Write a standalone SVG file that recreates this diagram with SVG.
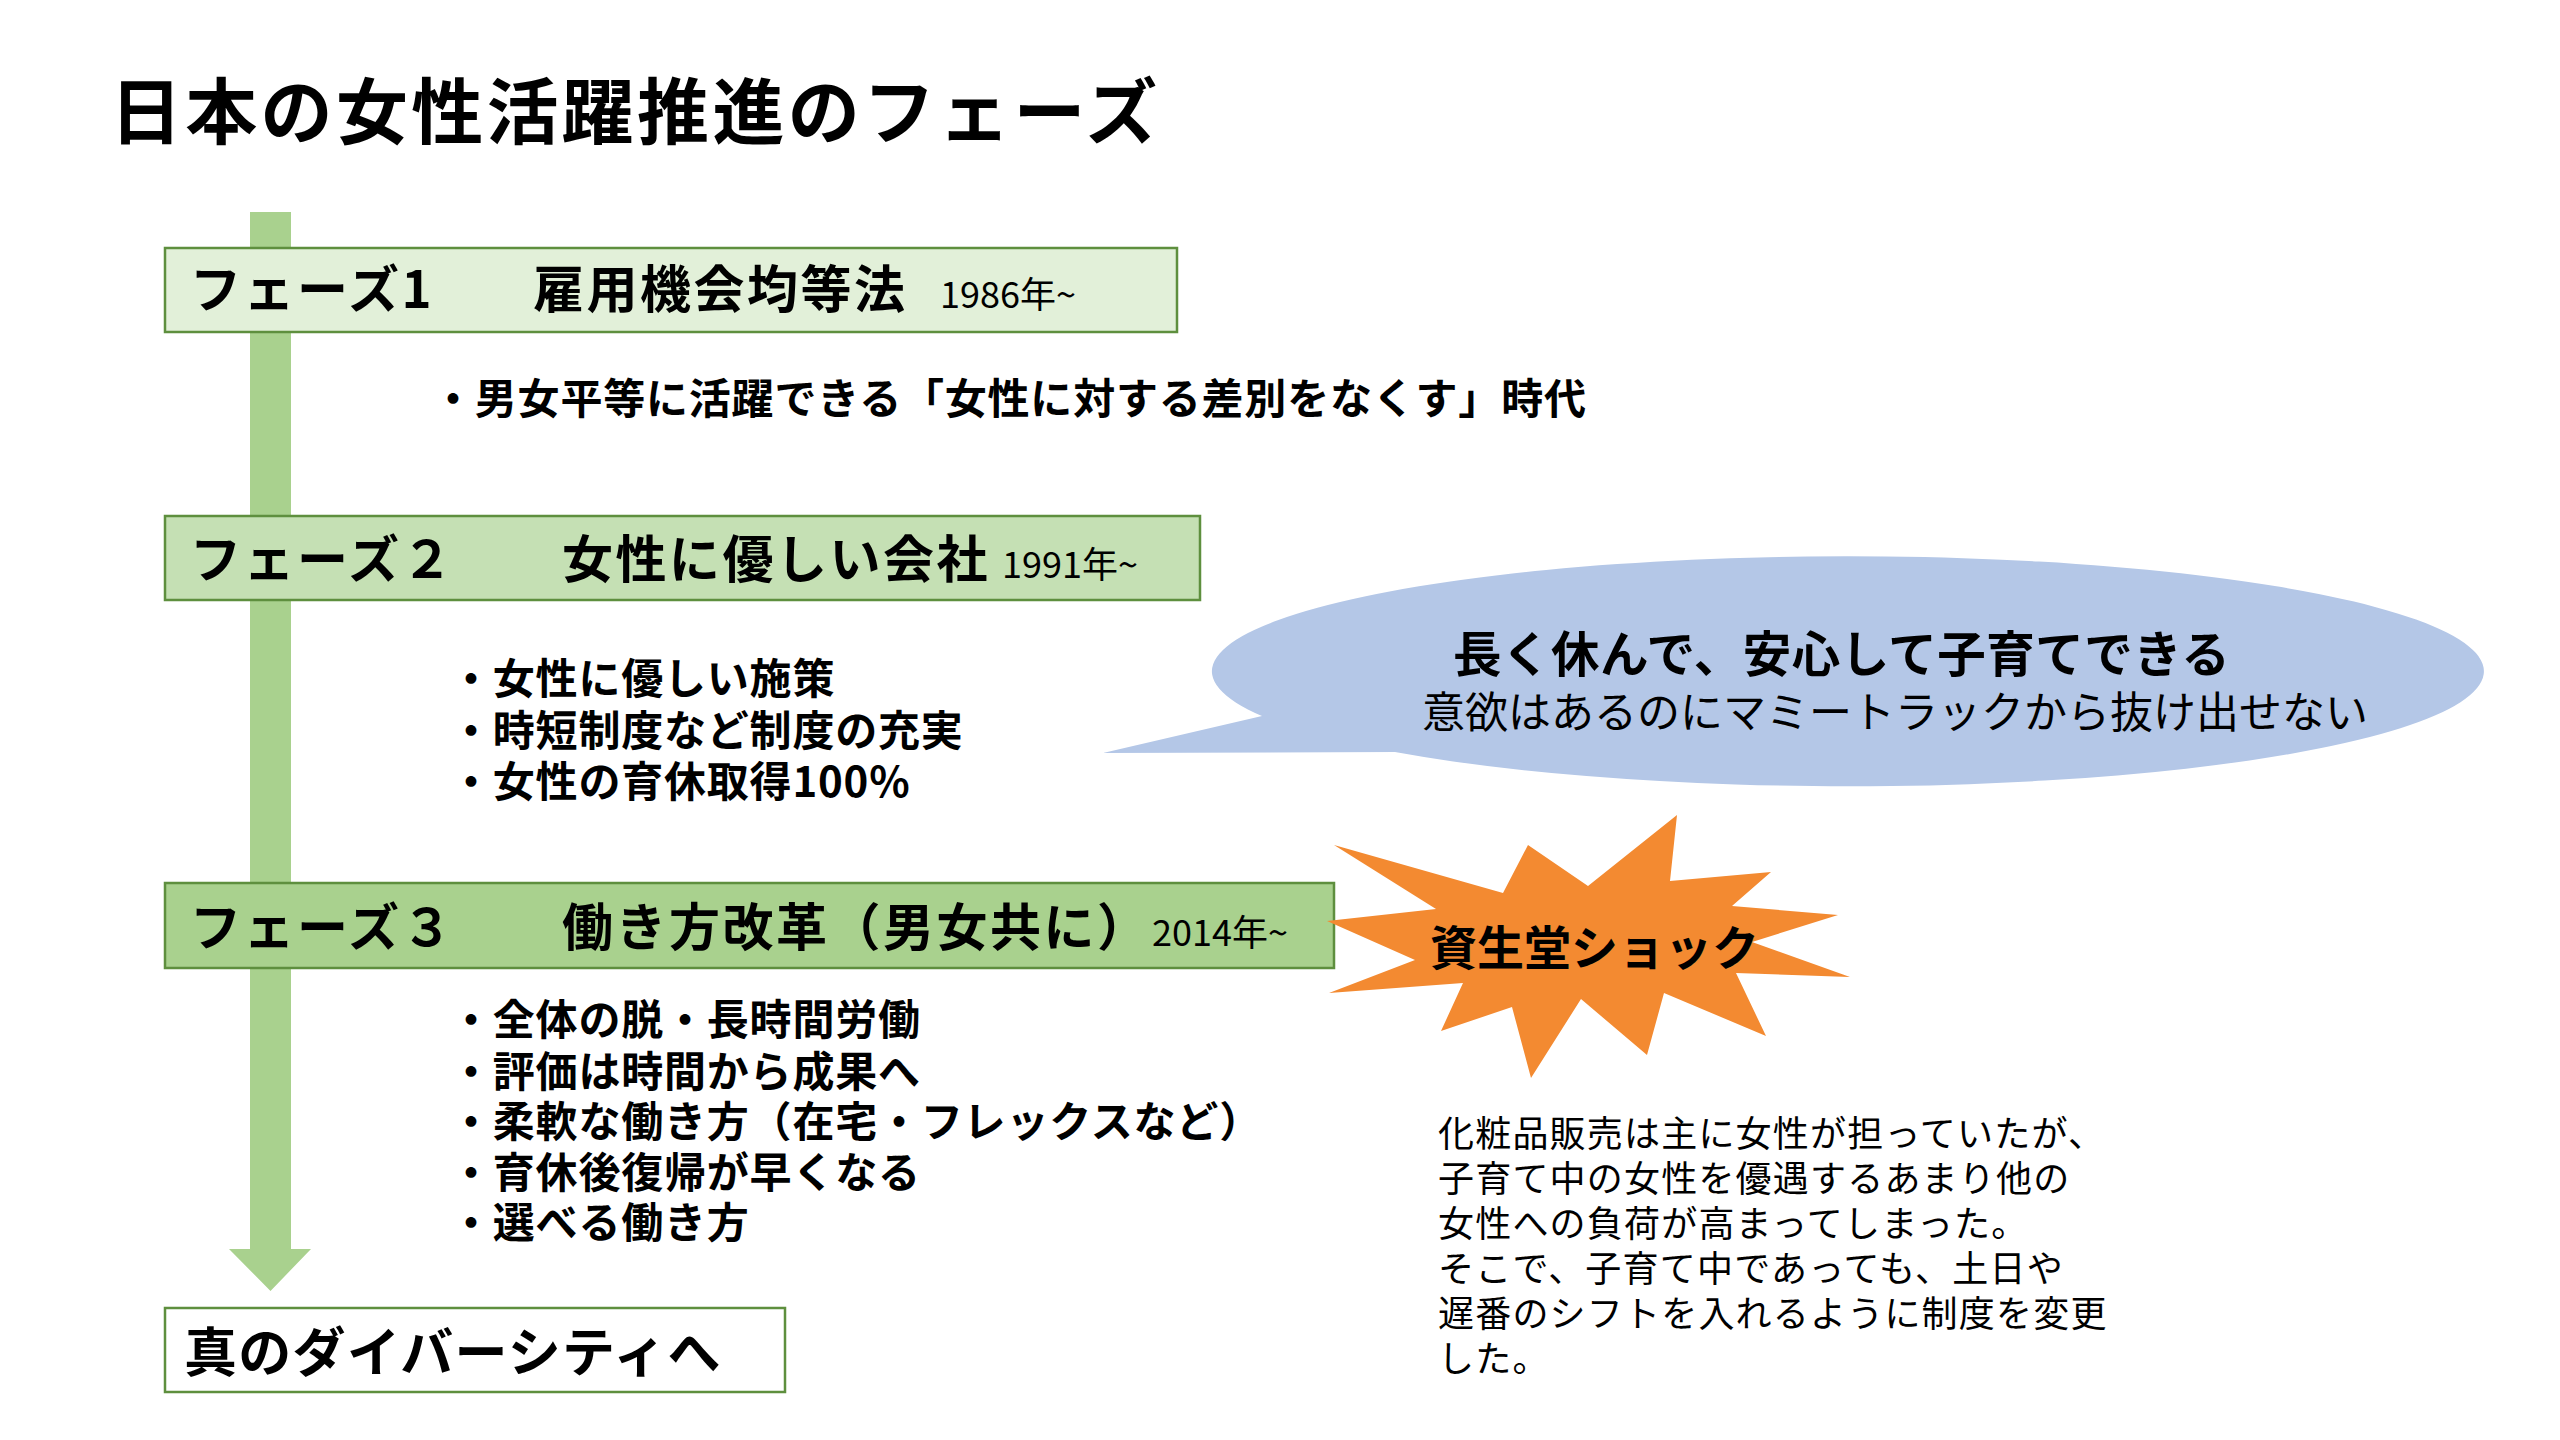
<svg xmlns="http://www.w3.org/2000/svg" width="2560" height="1440" viewBox="0 0 2560 1440">
<style>
text { font-family: "Noto Sans CJK JP", "Noto Sans", sans-serif; fill: #000; }
.title { font-size: 72px; font-weight: 700; letter-spacing: 3.3px; }
.head { font-size: 51px; font-weight: 700; letter-spacing: 2.5px; }
.year { font-size: 36px; font-weight: 400; }
.bul { font-size: 42px; font-weight: 700; letter-spacing: 0.8px; }
.box { stroke: #5E8F3E; stroke-width: 2.5; }
.desc { font-size: 36px; font-weight: 400; letter-spacing: 1.2px; }
</style>
<rect width="2560" height="1440" fill="#fff"/>
<text class="title" x="110" y="138">日本の女性活躍推進のフェーズ</text>

<g id="connectors">
  <path d="M250,212 H291 V1249 H311 L270.5,1291 L229,1249 H250 Z" fill="#A9D18E"/>
</g>

<g id="phase1">
  <rect class="box" x="165" y="248" width="1012" height="84" fill="#E2F0D9"/>
  <text class="head" x="190" y="308">フェーズ1</text>
  <text class="head" x="533" y="308">雇用機会均等法</text>
  <text class="year" x="940" y="308">1986年~</text>
</g>
<g id="phase1-notes">
  <text class="bul" x="432" y="414">・男女平等に活躍できる「女性に対する差別をなくす」時代</text>
</g>

<g id="phase2">
  <rect class="box" x="165" y="516" width="1035" height="84" fill="#C5E0B4"/>
  <text class="head" x="190" y="578">フェーズ２</text>
  <text class="head" x="562" y="578">女性に優しい会社</text>
  <text class="year" x="1002" y="578">1991年~</text>
</g>
<g id="phase2-notes">
  <text class="bul" x="450" y="694">・女性に優しい施策</text>
  <text class="bul" x="450" y="746">・時短制度など制度の充実</text>
  <text class="bul" x="450" y="797">・女性の育休取得100%</text>
</g>

<g id="bubble">
  <path d="M1262,716 L1103,753 L1395,752 A636,115 0 1 0 1262,716 Z" fill="#B4C7E7"/>
  <text x="1453" y="672" style="font-size:48.5px;font-weight:700;letter-spacing:0.5px">長く休んで、安心して子育てできる</text>
  <text x="1422" y="728" style="font-size:43px;font-weight:400">意欲はあるのにマミートラックから抜け出せない</text>
</g>

<g id="phase3">
  <rect class="box" x="165" y="883" width="1169" height="85" fill="#A9D18E"/>
  <text class="head" x="190" y="946">フェーズ３</text>
  <text class="head" x="562" y="946">働き方改革（男女共に）</text>
  <text class="year" x="1152" y="946">2014年~</text>
</g>
<g id="phase3-notes">
  <text class="bul" x="450" y="1035">・全体の脱・長時間労働</text>
  <text class="bul" x="450" y="1087">・評価は時間から成果へ</text>
  <text class="bul" x="450" y="1137">・柔軟な働き方（在宅・フレックスなど）</text>
  <text class="bul" x="450" y="1188">・育休後復帰が早くなる</text>
  <text class="bul" x="450" y="1238">・選べる働き方</text>
</g>

<g id="shock">
  <polygon fill="#F38A31" points="1334,845 1503,893 1528,845 1588,886 1677,815 1670,881 1771,872 1732,906 1838,915 1752,942 1850,977 1736,973 1766,1036 1664,993 1647,1055 1581,999 1531,1078 1512,1007 1441,1031 1463,983 1329,993 1415,960 1327,921 1436,909"/>
  <text x="1430" y="965" style="font-size:47px;font-weight:700">資生堂ショック</text>
</g>

<g id="shock-notes">
  <text class="desc" x="1438" y="1147">化粧品販売は主に女性が担っていたが、</text>
  <text class="desc" x="1438" y="1192">子育て中の女性を優遇するあまり他の</text>
  <text class="desc" x="1438" y="1237">女性への負荷が高まってしまった。</text>
  <text class="desc" x="1438" y="1282">そこで、子育て中であっても、土日や</text>
  <text class="desc" x="1438" y="1327">遅番のシフトを入れるように制度を変更</text>
  <text class="desc" x="1438" y="1372">した。</text>
</g>

<g id="diversity">
  <rect class="box" x="165" y="1308" width="620" height="84" fill="#fff"/>
  <text x="184" y="1372" style="font-size:53px;font-weight:700;letter-spacing:1.3px">真のダイバーシティへ</text>
</g>
</svg>
